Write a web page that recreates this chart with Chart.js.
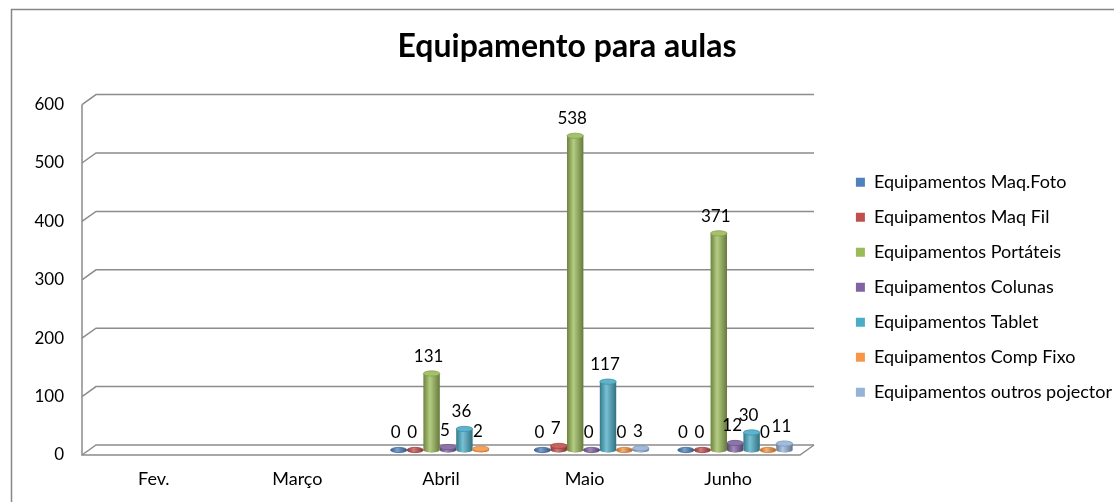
<!DOCTYPE html>
<html>
<head>
<meta charset="utf-8">
<script src="https://cdn.jsdelivr.net/npm/chart.js@4.4.1/dist/chart.umd.min.js"></script>
<style>
  html, body { margin: 0; padding: 0; background: #fff; overflow: hidden; }
  canvas { display: block; }
</style>
</head>
<body>
<canvas id="myChart" width="1122" height="515"></canvas>
<script>
const months = ["Fev.", "Março", "Abril", "Maio", "Junho"];
const seriesNames = [
  "Equipamentos Maq.Foto",
  "Equipamentos Maq Fil",
  "Equipamentos Portáteis",
  "Equipamentos Colunas",
  "Equipamentos Tablet",
  "Equipamentos Comp Fixo",
  "Equipamentos outros pojector",
];
const maqFoto   = [null, null, 0, 0, 0];
const maqFil    = [null, null, 0, 7, 0];
const portateis = [null, null, 131, 538, 371];
const colunas   = [null, null, 5, 0, 12];
const tablet    = [null, null, 36, 117, 30];
const compFixo  = [null, null, 2, 0, 0];
const outros    = [null, null, null, 3, 11];
const seriesColors = ["#4F81BD", "#C0504D", "#9BBB59", "#8064A2", "#4BACC6", "#F79646", "#95B3D7"];
const yMax = 600;
const yStep = 100;

const FONT = "Lato, 'Open Sans', sans-serif";
const DX = 14, DY = -10;           // depth of the 3D box
const PLOT_RIGHT = 800;            // front edge of the floor
const RIGHT_EDGE = 1122;

const allSeries = [maqFoto, maqFil, portateis, colunas, tablet, compFixo, outros];

function shade(hex, f) {
  const n = parseInt(hex.slice(1), 16);
  let r = n >> 16, g = (n >> 8) & 255, b = n & 255;
  const t = f < 0 ? 0 : 255, p = Math.abs(f);
  r = Math.round(r + (t - r) * p);
  g = Math.round(g + (t - g) * p);
  b = Math.round(b + (t - b) * p);
  return "rgb(" + r + "," + g + "," + b + ")";
}

function drawCylinder(ctx, cx, top, base, w, color) {
  const rx = w / 2, ry = Math.max(2, w * 0.16);
  const grad = ctx.createLinearGradient(cx - rx, 0, cx + rx, 0);
  grad.addColorStop(0, shade(color, -0.3));
  grad.addColorStop(0.4, shade(color, 0.25));
  grad.addColorStop(1, shade(color, -0.35));
  ctx.fillStyle = grad;
  ctx.beginPath();
  ctx.moveTo(cx - rx, top);
  ctx.lineTo(cx - rx, base);
  ctx.ellipse(cx, base, rx, ry, 0, Math.PI, 0, true);
  ctx.lineTo(cx + rx, top);
  ctx.closePath();
  ctx.fill();
  ctx.beginPath();
  ctx.ellipse(cx, top, rx, ry, 0, 0, Math.PI * 2);
  ctx.fillStyle = top === base ? grad : shade(color, 0.1);
  ctx.fill();
  ctx.strokeStyle = shade(color, -0.15);
  ctx.lineWidth = 0.8;
  ctx.stroke();
}

// measure the widest legend entry so the plot keeps its width
const measure = document.createElement("canvas").getContext("2d");
measure.font = "18px " + FONT;
const longest = Math.max(...seriesNames.map(n => measure.measureText(n).width));
const legendPad = 17;
const legendWidth = legendPad + 9 + 9 + longest + 10;

const box3d = {
  id: "box3d",
  beforeDraw(chart) {
    const ctx = chart.ctx;
    ctx.save();
    ctx.strokeStyle = "#868686";
    ctx.lineWidth = 1.5;
    ctx.strokeRect(11.5, 9.5, chart.width + 20, chart.height + 20);
    ctx.restore();
  },
  beforeDatasetsDraw(chart) {
    const ctx = chart.ctx;
    const {left, right, top, bottom} = chart.chartArea;
    const y = chart.scales.y;
    ctx.save();
    ctx.strokeStyle = "#8c8c8c";
    ctx.lineWidth = 1.5;
    y.ticks.forEach(t => {
      const py = y.getPixelForValue(t.value);
      ctx.beginPath();
      ctx.moveTo(left, py);
      ctx.lineTo(left + DX, py + DY);
      ctx.lineTo(right + DX, py + DY);
      ctx.stroke();
    });
    ctx.beginPath();
    ctx.moveTo(left, top);
    ctx.lineTo(left, bottom);
    ctx.lineTo(right, bottom);
    ctx.lineTo(right + DX, bottom + DY);
    ctx.stroke();

    // columns, category by category so the right ones sit in front
    const metas = chart.data.datasets.map((d, i) => chart.getDatasetMeta(i));
    for (let j = 0; j < months.length; j++) {
      metas.forEach((meta, i) => {
        const v = chart.data.datasets[i].data[j];
        if (v == null) return;
        const el = meta.data[j];
        drawCylinder(ctx, el.x + DX / 2, el.y + DY / 2, el.base + DY / 2, el.width, seriesColors[i]);
      });
    }
    ctx.fillStyle = "#000";
    ctx.font = "17px " + FONT;
    ctx.textAlign = "center";
    ctx.textBaseline = "middle";
    for (let j = 0; j < months.length; j++) {
      metas.forEach((meta, i) => {
        const v = chart.data.datasets[i].data[j];
        if (v == null) return;
        const el = meta.data[j];
        ctx.fillText(String(v), el.x + DX / 2 - 3, el.y + DY / 2 - 17);
      });
    }
    ctx.restore();
    return false;
  }
};

new Chart(document.getElementById("myChart"), {
  type: "bar",
  data: {
    labels: months,
    datasets: seriesNames.map((name, i) => ({
      label: name,
      data: allSeries[i],
      backgroundColor: seriesColors[i],
      borderWidth: 0,
      categoryPercentage: 0.8,
      barPercentage: 1.0,
    })),
  },
  options: {
    responsive: false,
    animation: false,
    devicePixelRatio: 1,
    layout: { padding: { left: 12, right: 0, top: 0, bottom: 0 } },
    plugins: {
      tooltip: { enabled: false },
      title: {
        display: true,
        text: "Equipamento para aulas",
        color: "#000",
        font: { family: FONT, size: 32, weight: "bold", lineHeight: 1.2 },
        padding: { top: 27.8, bottom: 38.4 },
      },
      legend: {
        position: "right",
        fullSize: false,
        maxWidth: 400,
        title: { display: true, text: "", padding: 0, font: { size: 15, lineHeight: 1 } },
        labels: {
          boxWidth: 9,
          boxHeight: 9,
          padding: legendPad,
          color: "#000",
          font: { family: FONT, size: 18 },
        },
      },
    },
    scales: {
      x: {
        grid: { display: false, drawTicks: false },
        border: { display: false },
        ticks: { color: "#000", font: { family: FONT, size: 18 }, padding: 13 },
        afterFit(s) { s.height = 60; },
      },
      y: {
        min: 0,
        max: yMax,
        grid: { display: false, drawTicks: false },
        border: { display: false },
        ticks: { stepSize: yStep, color: "#000", font: { family: FONT, size: 17 }, padding: 18 },
        afterFit(s) { s.width = 70; },
      },
      gap: {
        type: "linear",
        position: "right",
        grid: { display: false, drawTicks: false },
        border: { display: false },
        ticks: { display: false },
        afterFit(s) { s.width = RIGHT_EDGE - PLOT_RIGHT - legendWidth; },
      },
    },
  },
  plugins: [box3d],
});
</script>
</body>
</html>
